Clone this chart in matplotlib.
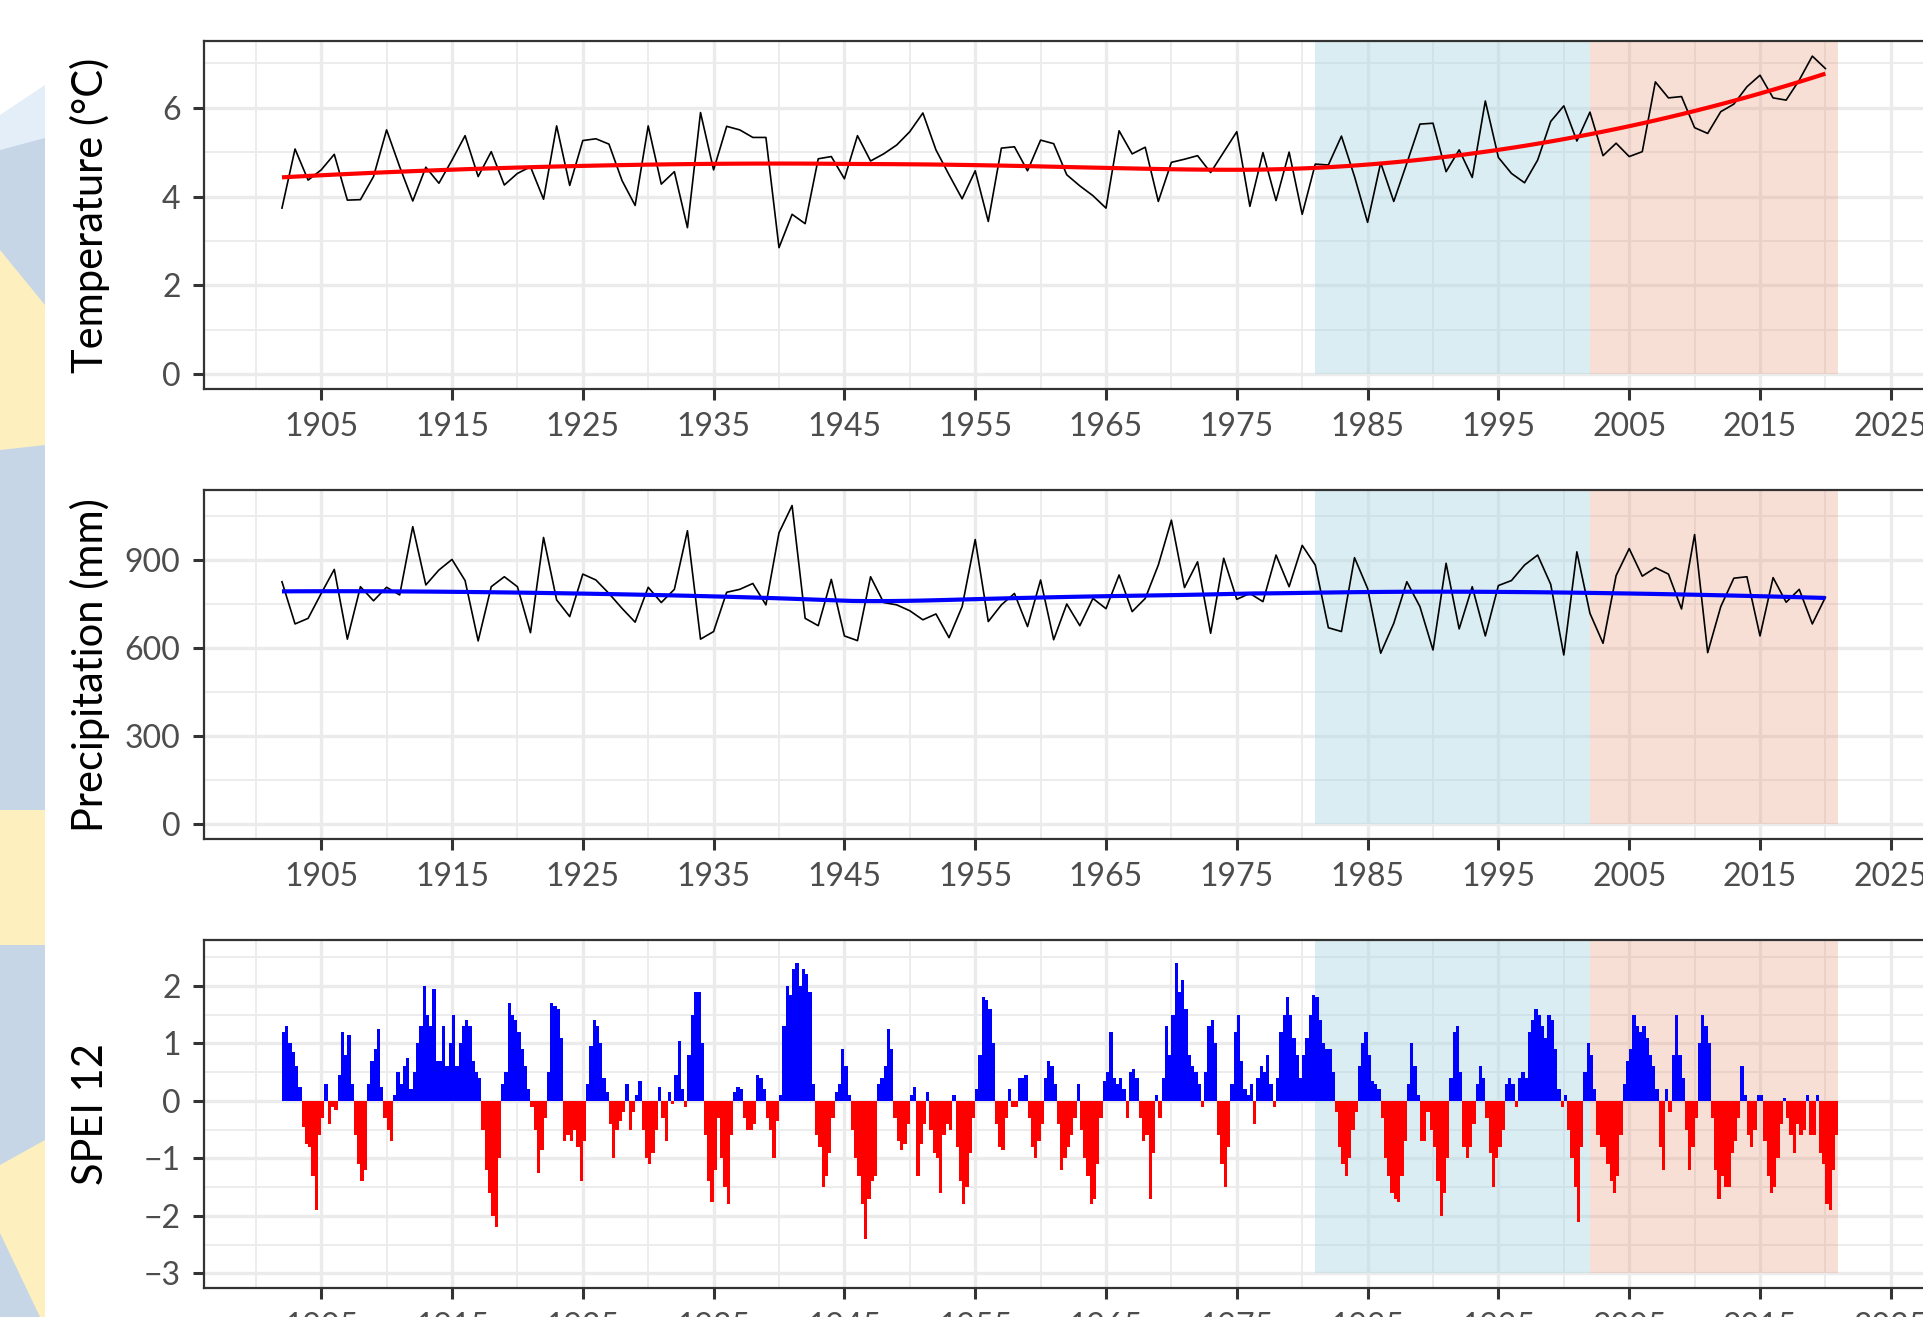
import numpy as np
import matplotlib
matplotlib.use("Agg")
import matplotlib.pyplot as plt
from matplotlib.patches import Polygon, Rectangle
from matplotlib.ticker import MultipleLocator, FixedLocator

plt.rcParams['font.family'] = ['Lato', 'DejaVu Sans']

# ---------------- data ----------------
years = np.arange(1902, 2021)

temperature = [
    3.74, 5.07, 4.37, 4.60, 4.95, 3.92, 3.93, 4.45,              # 1902-1909
    5.50, 4.67, 3.90, 4.66, 4.30, 4.82, 5.37, 4.45, 5.01, 4.26,  # 1910s
    4.52, 4.67, 3.94, 5.59, 4.25, 5.26, 5.30, 5.18, 4.36, 3.80,  # 1920s
    5.59, 4.28, 4.56, 3.30, 5.89, 4.60, 5.58, 5.50, 5.33, 5.33,  # 1930s
    2.85, 3.60, 3.39, 4.85, 4.90, 4.40, 5.37, 4.80, 4.96, 5.16,  # 1940s
    5.46, 5.88, 5.05, 4.49, 3.95, 4.58, 3.44, 5.09, 5.12, 4.58,  # 1950s
    5.27, 5.19, 4.49, 4.24, 4.02, 3.74, 5.48, 4.96, 5.11, 3.89,  # 1960s
    4.77, 4.84, 4.92, 4.54, 5.00, 5.46, 3.78, 4.99, 3.91, 5.00,  # 1970s
    3.60, 4.73, 4.71, 5.36, 4.45, 3.42, 4.76, 3.89, 4.75, 5.63,  # 1980s
    5.65, 4.56, 5.05, 4.43, 6.15, 4.88, 4.52, 4.31, 4.82, 5.69,  # 1990s
    6.04, 5.25, 5.90, 4.92, 5.20, 4.90, 5.01, 6.58, 6.22, 6.25,  # 2000s
    5.55, 5.42, 5.91, 6.08, 6.47, 6.73, 6.22, 6.17, 6.62, 7.16,  # 2010s
    6.88,                                                        # 2020
]

precipitation = [
    826, 682, 701, 786, 868, 630, 809, 761,                      # 1902-1909
    807, 781, 1014, 815, 866, 902, 830, 624, 809, 843,           # 1910s
    809, 652, 977, 764, 707, 852, 832, 786, 735, 688,            # 1920s
    807, 755, 800, 1000, 630, 656, 790, 800, 820, 747,           # 1930s
    993, 1086, 701, 676, 834, 641, 625, 843, 755, 747,           # 1940s
    727, 696, 716, 635, 741, 970, 690, 747, 786, 673,            # 1950s
    832, 628, 750, 676, 769, 734, 849, 724, 769, 883,            # 1960s
    1036, 806, 894, 650, 906, 766, 786, 758, 917, 809,           # 1970s
    950, 883, 669, 656, 908, 803, 582, 684, 826, 741,            # 1980s
    593, 889, 665, 809, 641, 813, 830, 883, 917, 817,            # 1990s
    576, 928, 718, 616, 847, 939, 845, 874, 852, 733,            # 2000s
    987, 584, 741, 838, 843, 641, 840, 756, 800, 682,            # 2010s
    773,                                                         # 2020
]

# SPEI-12, quarterly values (4 per year, 1902-2020)
spei12 = [
    1.2, 1.3, 1.0, 0.85,   0.6, 0.25, -0.45, -0.75,   -0.8, -1.3, -1.9, -0.6,
    -0.3, 0.3, -0.4, -0.1,   -0.15, 0.45, 1.2, 0.8,   1.15, 0.3, -0.6, -1.1,
    -1.4, -1.2, 0.3, 0.7,   0.9, 1.25, 0.25, -0.3,   -0.5, -0.7, 0.1, 0.5,
    0.3, 0.6, 0.75, 0.2,   0.5, 1.0, 1.3, 2.0,   1.5, 1.3, 1.95, 0.7,
    0.7, 1.3, 0.6, 1.0,   1.5, 0.6, 1.0, 1.3,   1.4, 1.3, 0.7, 0.5,
    0.4, -0.5, -1.2, -1.6,   -2.0, -2.2, -1.0, 0.3,   0.5, 1.7, 1.5, 1.4,
    1.2, 0.9, 0.6, 0.2,   -0.1, -0.5, -1.25, -0.85,   -0.3, 0.5, 1.7, 1.65,
    1.6, 1.1, -0.7, -0.6,   -0.7, -0.5, -0.8, -1.4,   -0.7, 0.3, 0.95, 1.4,
    1.3, 1.0, 0.4, 0.15,   -0.4, -1.0, -0.5, -0.35,   -0.2, 0.3, -0.5, -0.2,
    0.1, 0.35, -0.5, -1.0,   -1.1, -0.9, -0.5, 0.25,   -0.3, -0.7, 0.15, -0.05,
    0.45, 1.05, 0.2, -0.1,   0.8, 1.5, 1.9, 1.9,   1.0, -0.6, -1.4, -1.75,
    -1.2, -0.3, -1.0, -1.5,   -1.8, -0.6, 0.15, 0.25,   0.2, -0.3, -0.5, -0.5,
    -0.4, 0.45, 0.4, 0.2,   -0.3, -0.5, -1.0, -0.35,   0.1, 1.3, 2.0, 1.85,
    2.3, 2.4, 2.0, 2.3,   2.2, 1.9, 0.3, -0.6,   -0.8, -1.5, -1.3, -0.9,
    -0.3, 0.15, 0.3, 0.9,   0.6, 0.1, -0.5, -1.0,   -1.3, -1.8, -2.4, -1.7,
    -1.4, -1.3, 0.3, 0.4,   0.6, 1.25, 0.9, -0.3,   -0.7, -0.85, -0.75, -0.4,
    0.1, 0.25, -1.3, -0.75,   -0.4, 0.15, -0.5, -0.9,   -1.0, -1.6, -0.6, -0.4,
    -0.5, 0.1, -0.8, -1.4,   -1.8, -1.5, -0.9, -0.3,   0.2, 0.8, 1.8, 1.75,
    1.6, 1.0, -0.4, -0.8,   -0.85, -0.3, 0.2, -0.1,   -0.1, 0.4, 0.4, 0.45,
    -0.3, -0.8, -1.0, -0.7,   -0.4, 0.4, 0.7, 0.6,   0.3, -0.4, -1.2, -1.0,
    -0.8, -0.6, -0.3, 0.3,   -0.5, -1.0, -1.3, -1.8,   -1.7, -1.1, -0.3, 0.35,
    0.5, 1.2, 0.4, 0.3,   0.4, 0.2, -0.3, 0.5,   0.55, 0.4, -0.3, -0.7,
    -0.6, -1.7, -0.9, 0.1,   -0.3, 0.4, 1.3, 0.8,   1.5, 2.4, 1.9, 2.1,
    1.6, 0.8, 0.6, 0.5,   0.3, -0.1, 0.5, 1.3,   1.4, 1.0, -0.6, -1.1,
    -1.5, -0.8, 0.3, 1.2,   1.5, 0.7, 0.2, 0.1,   0.3, -0.4, 0.4, 0.6,
    0.5, 0.8, 0.3, -0.1,   0.4, 1.2, 1.5, 1.8,   1.5, 1.1, 0.8, 0.4,
    0.8, 1.1, 1.5, 1.85,   1.8, 1.4, 1.0, 0.9,   0.9, 0.5, -0.2, -0.8,
    -1.1, -1.3, -1.0, -0.5,   -0.2, 0.6, 1.0, 1.2,   0.8, 0.35, 0.3, 0.2,
    -0.3, -1.0, -1.3, -1.6,   -1.7, -1.75, -1.3, -0.7,   0.3, 1.0, 0.6, 0.1,
    -0.7, -0.7, -0.2, -0.5,   -0.8, -1.4, -2.0, -1.6,   -1.0, 0.4, 1.2, 1.3,
    0.5, -0.8, -1.0, -0.8,   -0.4, 0.3, 0.6, 0.4,   -0.3, -0.9, -1.5, -1.0,
    -0.8, -0.5, 0.3, 0.4,   0.3, -0.1, 0.4, 0.5,   0.4, 1.2, 1.4, 1.6,
    1.5, 1.3, 1.1, 1.5,   1.4, 0.9, 0.2, -0.1,   0.1, -0.5, -1.0, -1.5,
    -2.1, -0.8, 0.5, 1.0,   0.8, 0.2, -0.6, -0.8,   -0.8, -1.1, -1.4, -1.6,
    -1.3, -0.6, 0.3, 0.7,   0.9, 1.5, 1.3, 1.2,   1.3, 1.1, 0.8, 0.6,
    0.2, -0.8, -1.2, 0.2,   -0.2, 0.8, 1.5, 0.8,   0.4, -0.5, -1.2, -0.8,
    -0.3, 1.0, 1.5, 1.3,   1.0, -0.3, -1.2, -1.7,   -1.3, -1.5, -1.5, -0.9,
    -0.7, -0.3, 0.6, 0.1,   -0.6, -0.8, -0.5, 0.1,   0.1, -0.7, -1.3, -1.6,
    -1.5, -1.0, -0.4, 0.05,   -0.3, -0.6, -0.9, -0.4,   -0.6, -0.5, 0.1, -0.6,
    -0.6, 0.1, -0.9, -1.1,   -1.8, -1.9, -1.2, -0.6,
]

periods = [(1981, 2002), (2002, 2021)]
period_colors = ['#ADD8E6', '#E9967A']
period_alpha = [0.45, 0.30]

x_ticks = list(range(1905, 2026, 10))
temp_ticks = [0, 2, 4, 6]
prec_ticks = [0, 300, 600, 900]
spei_ticks = [-3, -2, -1, 0, 1, 2]


def loess(x, y, xs, span=0.75):
    x = np.asarray(x, float)
    y = np.asarray(y, float)
    n = len(x)
    q = int(np.floor(n * span))
    out = []
    for x0 in xs:
        d = np.abs(x - x0)
        h = np.sort(d)[q - 1]
        w = np.clip(1 - (d / h) ** 3, 0, None) ** 3
        X = np.vstack([np.ones(n), x - x0, (x - x0) ** 2]).T
        Wt = np.sqrt(w)
        beta, *_ = np.linalg.lstsq(X * Wt[:, None], y * Wt, rcond=None)
        out.append(beta[0])
    return np.array(out)


# ---------------- figure ----------------
W, H = 1924, 1317
fig = plt.figure(figsize=(W / 100, H / 100), dpi=100)

# decorative background strip at the far left
def fpoly(pts, color):
    p = Polygon([(x / W, 1 - y / H) for x, y in pts], closed=True,
                transform=fig.transFigure, facecolor=color, edgecolor='none')
    fig.patches.append(p)

fpoly([(0, 115), (45, 85), (45, 140), (0, 150)], '#E4EEF9')
fpoly([(0, 150), (45, 138), (45, 1317), (0, 1317)], '#C6D6E6')
fpoly([(0, 250), (45, 305), (45, 445), (0, 450)], '#FDF0BE')
fpoly([(0, 810), (45, 810), (45, 945), (0, 945)], '#FDF0BE')
fpoly([(0, 1165), (45, 1140), (45, 1317), (40, 1317), (0, 1233)], '#FDF0BE')

left_px, right_px = 204, 1990
xlim = (1896.04, 1905 + (right_px - 321.2) / 13.08)

panels = [
    dict(top=41, bottom=389, ylim=(-0.33, 7.50), ticks=temp_ticks, minor=1,
         label='Temperature (°C)', rect_low=0),
    dict(top=490.3, bottom=839, ylim=(-52, 1138), ticks=prec_ticks, minor=150,
         label='Precipitation (mm)', rect_low=0),
    dict(top=940.3, bottom=1288.3, ylim=(-3.26, 2.795), ticks=spei_ticks, minor=0.5,
         label='SPEI 12', rect_low=-3),
]

axes = []
for p in panels:
    ax = fig.add_axes([left_px / W, 1 - p['bottom'] / H,
                       (right_px - left_px) / W, (p['bottom'] - p['top']) / H])
    ax.set_xlim(*xlim)
    ax.set_ylim(*p['ylim'])
    ax.set_axisbelow(True)
    ax.xaxis.set_major_locator(FixedLocator(x_ticks))
    ax.xaxis.set_minor_locator(FixedLocator(list(range(1900, 2036, 10))))
    ax.yaxis.set_major_locator(FixedLocator(p['ticks']))
    ax.yaxis.set_minor_locator(MultipleLocator(p['minor']))
    ax.grid(which='major', color='#EBEBEB', linewidth=2.4)
    ax.grid(which='minor', color='#EBEBEB', linewidth=1.3)
    ax.tick_params(which='major', length=7.9, width=2.2, color='#333333',
                   labelsize=23, labelcolor='#4D4D4D')
    ax.tick_params(axis='x', which='major', pad=9)
    ax.tick_params(axis='y', which='major', pad=9)
    ax.tick_params(which='minor', length=0)
    for s in ax.spines.values():
        s.set_color('#333333')
        s.set_linewidth(1.6)
    for (a, b), c, al in zip(periods, period_colors, period_alpha):
        ax.add_patch(Rectangle((a, p['rect_low']), b - a,
                               p['ylim'][1] + 10 - p['rect_low'],
                               facecolor=c, alpha=al, edgecolor='none', zorder=1))
    ax.set_ylabel(p['label'], fontsize=30, color='black')
    ax.yaxis.set_label_coords((110 - left_px) / (right_px - left_px), 0.5)
    axes.append(ax)

xs = np.linspace(years[0], years[-1], 120)

ax = axes[0]
ax.plot(years, temperature, color='black', lw=1.2, zorder=3)
ax.plot(xs, loess(years, temperature, xs), color='#FF0000', lw=3.0, zorder=4,
        solid_capstyle='butt')

ax = axes[1]
ax.plot(years, precipitation, color='black', lw=1.2, zorder=3)
ax.plot(xs, loess(years, precipitation, xs), color='#0000FF', lw=3.0, zorder=4,
        solid_capstyle='butt')

ax = axes[2]
spei = np.asarray(spei12)
t = years[0] + np.arange(len(spei)) / 4.0
cols = np.where(spei >= 0, '#0000FF', '#FF0000')
ax.bar(t, spei, width=0.25, align='edge', color=cols, edgecolor='none',
       linewidth=0, zorder=3)

fig.savefig('out.png', dpi=100)
